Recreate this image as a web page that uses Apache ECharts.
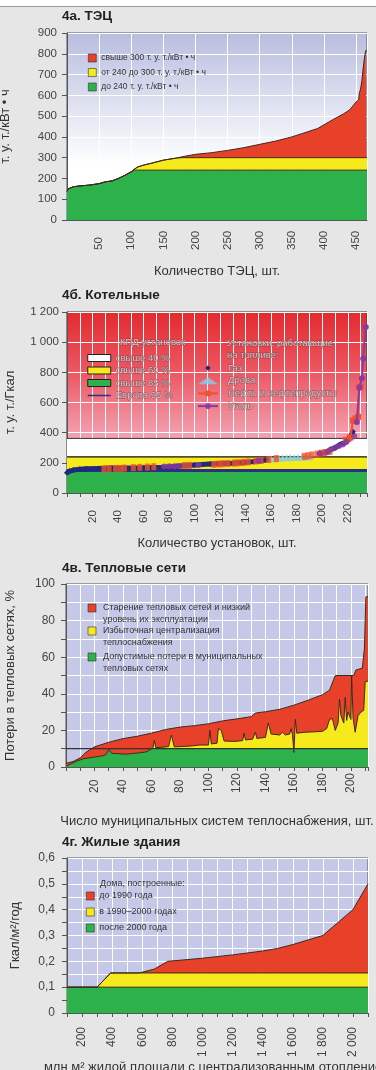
<!DOCTYPE html>
<html>
<head>
<meta charset="utf-8">
<script src="https://cdn.jsdelivr.net/npm/echarts@6/dist/echarts.min.js"></script>
<style>
html, body { margin: 0; padding: 0; background: #e6e6e6; }
#main { width: 376px; height: 1070px; }
</style>
</head>
<body>
<div id="main"></div>
<script>
// 4а. ТЭЦ: удельный расход по станциям (отсортировано)
const tpsX = [0, 2, 5, 10, 20, 35, 50, 60, 70, 80, 90, 100, 105, 110, 120, 130, 140, 150, 160, 170, 180, 200, 225, 250, 275, 300, 325, 350, 375, 390, 400, 415, 430, 440, 450, 454, 455, 457, 459, 461, 463, 465, 467];
const tpsY = [138, 150, 157, 160, 164, 168, 175, 184, 188, 200, 215, 232, 245, 255, 265, 272, 280, 288, 293, 298, 305, 316, 324, 335, 348, 364, 380, 400, 425, 440, 458, 485, 510, 530, 568, 578, 610, 630, 670, 730, 780, 815, 815];
const tpsLevels = [300, 240];

// 4б. Котельные
const gasX = [0, 2, 5, 10, 15, 25, 35, 45, 60, 75, 86, 100, 112, 122, 130, 138, 146, 152, 157, 180, 198, 202, 206, 210, 214, 218, 221, 224];
const gasY = [135, 145, 152, 157, 160, 163, 165, 166, 168, 171, 178, 186, 192, 195, 198, 202, 208, 214, 220, '-', 260, 268, 285, 300, 322, 334, 360, 406];
const woodX = [160, 163, 166, 169, 172, 175, 178, 181, 184, 187, 190];
const woodY = [226, 229, 231, 233, 234, 235, 236, 236, 237, 238, 240];
const oilX = [29, 33, 38, 42, 45, 52, 57, 63, 68, 92, 96, 115, 119, 122, 126, 131, 134, 138, 142, 148, 152, 158, 164, 186, 189, 192, 196, 199, 202, 206, 218, 221];
const oilY = [160, 162, 163, 162, 165, 168, 170, 172, 174, 182, 183, 190, 192, 194, 196, 198, 200, 203, 206, 212, 216, 222, 228, 243, 247, 252, 258, 264, 268, 276, 350, 362];
const oilTailX = [222, 224, 226, 228, 229, 230];
const oilTailY = [368, 480, 495, 505, 700, 705];
const coalX = [76, 80, 84, 88, 103, 150, 198, 204, 207, 210, 213, 216, 219, 225];
const coalY = [176, 177, 178, 179, 186, 214, 262, 272, 290, 300, 312, 322, 340, 376];
const coalTailX = [227, 229, 231, 232, 234];
const coalTailY = [470, 700, 760, 890, 1100];
const boilerBands = [362, 240, 150];   // КПД 40 %, 60 %, 85 %
const europeLevel = 150;               // Европа 95 %

// 4в. Тепловые сети
const netTopX = [0, 5, 10, 14, 20, 30, 40, 50, 60, 70, 80, 90, 100, 110, 120, 130, 133, 140, 150, 160, 170, 180, 185, 189, 202, 203.5, 208, 209.5, 210.5, 212];
const netTopY = [2, 3, 5, 8, 11, 13.5, 15.5, 16.8, 18.5, 20.5, 21.8, 22.6, 23.6, 25.2, 26.3, 27.5, 29.5, 30.2, 31.5, 33.8, 36.5, 39.5, 42, 50, 50, 53, 54, 65, 93, 93];
const netLowX = [0, 3, 7, 12, 19, 25, 28, 30, 32, 42, 50, 56, 59, 61, 62, 63, 68, 72, 74, 76, 82, 88, 94, 100, 101, 102, 106, 107, 109, 111, 118, 124, 125, 126, 131, 133, 134, 140, 142, 144, 150, 152, 154, 157, 158, 159, 160, 161, 162, 168, 174, 180, 183, 185, 187, 189, 191, 192, 193, 194, 195, 196, 197, 198, 199, 200, 200.5, 201.5, 203, 205, 207, 209, 210, 212];
const netLowY = [0.5, 1.5, 3, 4.5, 5.3, 6, 6.6, 9.6, 7.5, 7, 7.6, 8.2, 9.3, 10.5, 14.5, 10.6, 10.8, 11.2, 17.5, 11, 11.2, 11.5, 12, 12, 20, 12.6, 13, 21, 20, 14.2, 14, 14.4, 18.5, 14.8, 15.2, 19, 15.6, 16.2, 24, 18, 17.5, 19, 17.5, 18, 21, 17.6, 8, 26, 18.5, 19, 19.2, 19.5, 21, 26, 26.5, 20, 24, 37, 28, 29, 24, 38, 25.5, 30, 31, 26, 50, 27, 19, 28, 30, 31, 46.5, 47];
const netNorm = 10;

// 4г. Жилые здания
const homesX = [100, 300, 390, 580, 680, 770, 1000, 1200, 1400, 1500, 1600, 1800, 1900, 2000, 2100];
const homesY = [0.1, 0.1, 0.155, 0.155, 0.17, 0.2, 0.212, 0.225, 0.24, 0.25, 0.265, 0.3, 0.35, 0.4, 0.5];
const homesLevels = [0.155, 0.1];

const RED = '#e8412a', YELLOW = '#f6e91c', GREEN = '#2db24b';
const EDGE = '#3b2a1e';
const FONT = 'Liberation Sans, Arial, sans-serif';
const PALE = { color: '#d4c4c6', textBorderColor: 'rgba(110,70,75,0.85)', textBorderWidth: 0.8 };

const pairs = (xs, ys) => xs.map((x, i) => [x, ys[i]]);
const capped = (xs, ys, c) => xs.map((x, i) => [x, Math.min(ys[i], c)]);
const flat = (xs, v) => [[xs[0], v], [xs[xs.length - 1], v]];
const spaced = v => v >= 1000 ? Math.floor(v / 1000) + ' ' + String(v % 1000).padStart(3, '0') : String(v);

const chart = echarts.init(document.getElementById('main'));

function area(name, data, color, xi, lineColor, lineWidth, z) {
    return {
        name: name, type: 'line', xAxisIndex: xi, yAxisIndex: xi, data: data,
        symbol: 'none', animation: false, z: z || 2,
        itemStyle: { color: color },
        lineStyle: { color: lineColor || EDGE, width: lineWidth === undefined ? 1 : lineWidth },
        areaStyle: { color: color, opacity: 1 }
    };
}

const labelStyle = { color: '#444', fontSize: 11.5 };
const axisLine = { show: true, lineStyle: { color: '#555' } };
const whiteSplit = { show: true, lineStyle: { color: '#fff', width: 1 } };
const nameStyle = { fontSize: 13, color: '#333' };

const option = {
    backgroundColor: '#e6e6e6',
    animation: false,
    textStyle: { fontFamily: FONT },
    title: [
        { text: '4а. ТЭЦ', left: 62, top: 9 },
        { text: '4б. Котельные', left: 62, top: 288 },
        { text: '4в. Тепловые сети', left: 62, top: 561 },
        { text: '4г. Жилые здания', left: 62, top: 835 }
    ].map(t => Object.assign(t, { padding: 0, textStyle: { fontSize: 13.5, fontWeight: 'bold', color: '#222', fontFamily: FONT } })),
    grid: [
        { left: 67, top: 33, width: 300, height: 187, show: true, borderColor: '#4c5178', borderWidth: 1,
          backgroundColor: new echarts.graphic.LinearGradient(0, 0, 0, 1, [
              { offset: 0, color: '#b8bddf' }, { offset: 0.7, color: '#ffffff' }, { offset: 1, color: '#ffffff' }]) },
        { left: 67, top: 312, width: 300, height: 181, show: true, borderColor: '#333', borderWidth: 1,
          backgroundColor: new echarts.graphic.LinearGradient(0, 0, 0, 1, [
              { offset: 0, color: '#e42a2e' }, { offset: 0.35, color: '#ec5a66' }, { offset: 0.7, color: '#f4a4b4' }, { offset: 1, color: '#fbd8e0' }]) },
        { left: 66, top: 584, width: 302, height: 183, show: true, borderColor: '#555', borderWidth: 1, backgroundColor: '#c5c8e7' },
        { left: 67, top: 858, width: 301, height: 155, show: true, borderColor: '#555', borderWidth: 1, backgroundColor: '#c5c8e7' }
    ].map(g => Object.assign(g, { containLabel: false, outerBoundsMode: 'none' })),
    xAxis: [
        { gridIndex: 0, type: 'value', min: 0, max: 467, interval: 50,
          name: 'Количество ТЭЦ, шт.', nameLocation: 'middle', nameGap: 45, nameTextStyle: nameStyle,
          axisLine: axisLine, axisTick: { show: false },
          axisLabel: Object.assign({ rotate: 90, align: 'left', margin: 30,
              formatter: v => (v > 0 && v % 50 === 0) ? String(v) : '' }, labelStyle),
          splitLine: whiteSplit },
        { gridIndex: 1, type: 'value', min: 0, max: 235, interval: 10,
          name: 'Количество установок, шт.', nameLocation: 'middle', nameGap: 44, nameTextStyle: nameStyle,
          axisLine: axisLine, axisTick: { show: true, length: 4, lineStyle: { color: '#555' } },
          axisLabel: Object.assign({ rotate: 90, align: 'left', margin: 30,
              formatter: v => (v > 0 && v <= 220 && v % 20 === 0) ? String(v) : '' }, labelStyle),
          splitLine: whiteSplit },
        { gridIndex: 2, type: 'value', min: 0, max: 212, interval: 10,
          name: 'Число муниципальных систем теплоснабжения, шт.', nameLocation: 'middle', nameGap: 48, nameTextStyle: nameStyle,
          axisLine: axisLine, axisTick: { show: true, length: 4, lineStyle: { color: '#555' } },
          axisLabel: Object.assign({ rotate: 90, align: 'left', margin: 26,
              formatter: v => (v > 0 && v <= 200 && v % 20 === 0) ? String(v) : '' }, labelStyle, { fontSize: 12 }),
          splitLine: whiteSplit },
        { gridIndex: 3, type: 'value', min: 100, max: 2100, interval: 100,
          name: 'млн м² жилой площади с централизованным отоплением', nameLocation: 'middle', nameGap: 47, nameTextStyle: nameStyle,
          axisLine: axisLine, axisTick: { show: true, length: 4, lineStyle: { color: '#555' } },
          axisLabel: Object.assign({ rotate: 90, margin: 14,
              formatter: v => (v % 200 === 0) ? spaced(v) : '' }, labelStyle, { fontSize: 12 }),
          splitLine: whiteSplit }
    ],
    yAxis: [
        { gridIndex: 0, type: 'value', min: 0, max: 900, interval: 100,
          name: 'т. у. т./кВт • ч', nameLocation: 'middle', nameGap: 55, nameTextStyle: nameStyle,
          axisLine: axisLine, axisTick: { show: true, length: 5, lineStyle: { color: '#555' } },
          axisLabel: Object.assign({ margin: 10 }, labelStyle), splitLine: whiteSplit },
        { gridIndex: 1, type: 'value', min: 0, max: 1200, interval: 200,
          name: 'т. у. т./Гкал', nameLocation: 'middle', nameGap: 50, nameTextStyle: nameStyle,
          axisLine: axisLine, axisTick: { show: true, length: 5, lineStyle: { color: '#555' } },
          axisLabel: Object.assign({ margin: 8, formatter: spaced }, labelStyle), splitLine: whiteSplit },
        { gridIndex: 2, type: 'value', min: 0, max: 100, interval: 10,
          name: 'Потери в тепловых сетях, %', nameLocation: 'middle', nameGap: 49, nameTextStyle: nameStyle,
          axisLine: axisLine, axisTick: { show: true, length: 5, lineStyle: { color: '#555' } },
          axisLabel: Object.assign({ margin: 11, formatter: v => v % 20 === 0 ? String(v) : '' }, labelStyle, { fontSize: 12 }),
          splitLine: whiteSplit },
        { gridIndex: 3, type: 'value', min: 0, max: 0.6, interval: 0.05,
          name: 'Гкал/м²/год', nameLocation: 'middle', nameGap: 45, nameTextStyle: nameStyle,
          axisLine: axisLine, axisTick: { show: true, length: 5, lineStyle: { color: '#555' } },
          axisLabel: Object.assign({ margin: 12,
              formatter: v => Math.round(v * 100) % 10 === 0 ? (v === 0 ? '0' : v.toFixed(1).replace('.', ',')) : '' }, labelStyle, { fontSize: 12 }),
          splitLine: whiteSplit }
    ],
    legend: [
        { data: ['свыше 300 т. у. т./кВт • ч', 'от 240 до 300 т. у. т./кВт • ч', 'до 240 т. у. т./кВт • ч'],
          orient: 'vertical', left: 88, top: 53, padding: 0, icon: 'rect', itemWidth: 8, itemHeight: 8, itemGap: 4.5,
          selectedMode: false, itemStyle: { borderColor: '#333', borderWidth: 0.6 },
          textStyle: { fontSize: 8.5, color: '#333', lineHeight: 10, fontFamily: FONT } },
        { data: [
              { name: 'свыше 40 %', icon: 'rect', itemStyle: { color: '#fff', borderColor: '#222', borderWidth: 1 } },
              { name: 'свыше 60 %', icon: 'rect', itemStyle: { color: YELLOW, borderColor: '#222', borderWidth: 1 } },
              { name: 'свыше 85 %', icon: 'rect', itemStyle: { color: GREEN, borderColor: '#222', borderWidth: 1 } },
              { name: 'Европа 95 %', itemStyle: { opacity: 0 }, lineStyle: { width: 1.5 } }],
          orient: 'vertical', left: 87, top: 352, padding: 0, itemWidth: 23, itemHeight: 7, itemGap: 0.5,
          selectedMode: false,
          textStyle: Object.assign({ fontSize: 9.5, lineHeight: 12, fontFamily: FONT }, PALE) },
        { data: [{ name: 'Газ', lineStyle: { opacity: 0 } }, 'Дрова', 'Нефть и нефтепродукты', 'Уголь'],
          orient: 'vertical', left: 197, top: 362, padding: 0, itemWidth: 20, itemHeight: 7, itemGap: 0.7,
          selectedMode: false,
          textStyle: Object.assign({ fontSize: 9.5, lineHeight: 12, fontFamily: FONT, padding: [0, 0, 0, 5] }, PALE) },
        { data: ['до 1990 года', 'в 1990–2000 годах', 'после 2000 года'],
          orient: 'vertical', left: 86, top: 891, padding: 0, icon: 'rect', itemWidth: 8, itemHeight: 8, itemGap: 6,
          selectedMode: false, itemStyle: { borderColor: '#333', borderWidth: 0.6 },
          textStyle: { fontSize: 9, color: '#333', lineHeight: 10, fontFamily: FONT } }
    ],
    graphic: [
        { type: 'rect', z: 100, shape: { x: 0, y: 0, width: 376, height: 6 }, style: { fill: '#fff' } },
        { type: 'line', z: 100, shape: { x1: 0, y1: 6.5, x2: 376, y2: 6.5 }, style: { stroke: '#999', lineWidth: 1 } },
        { type: 'text', z: 100, x: 120, y: 337, style: { text: 'КПД установок', fontSize: 9.5, fontFamily: FONT,
          fill: PALE.color, stroke: PALE.textBorderColor, lineWidth: PALE.textBorderWidth } },
        { type: 'text', z: 100, x: 227, y: 337, style: { text: 'Установки, работающие\nна топливе:', fontSize: 9.5, lineHeight: 12,
          fontFamily: FONT, fill: PALE.color, stroke: PALE.textBorderColor, lineWidth: PALE.textBorderWidth } },
        { type: 'text', z: 100, x: 100, y: 879, style: { text: 'Дома, построенные:', fontSize: 9, fontFamily: FONT, fill: '#333' } }
    ].concat([
        { c: 608, color: RED, text: 'Старение тепловых сетей и низкий\nуровень их эксплуатации' },
        { c: 631, color: YELLOW, text: 'Избыточная централизация\nтеплоснабжения' },
        { c: 657, color: GREEN, text: 'Допустимые потери в муниципальных\nтепловых сетях' }
    ].flatMap(it => [
        { type: 'rect', z: 100, shape: { x: 88, y: it.c - 4, width: 8, height: 8 }, style: { fill: it.color, stroke: '#333', lineWidth: 0.6 } },
        { type: 'text', z: 100, x: 103, y: it.c - 6, style: { text: it.text, fontSize: 9, lineHeight: 12, fontFamily: FONT, fill: '#333' } }
    ])),
    series: [
        // 4а
        area('свыше 300 т. у. т./кВт • ч', pairs(tpsX, tpsY), RED, 0),
        area('от 240 до 300 т. у. т./кВт • ч', capped(tpsX, tpsY, tpsLevels[0]), YELLOW, 0),
        area('до 240 т. у. т./кВт • ч', capped(tpsX, tpsY, tpsLevels[1]), GREEN, 0),

        // 4б: полосы КПД
        area('свыше 40 %', flat([0, 235], boilerBands[0]), '#ffffff', 1, '#333', 1, 1),
        area('свыше 60 %', flat([0, 235], boilerBands[1]), YELLOW, 1, '#111', 1.2, 1),
        area('свыше 85 %', flat([0, 235], boilerBands[2]), GREEN, 1, GREEN, 0, 1),
        { name: 'Европа 95 %', type: 'line', xAxisIndex: 1, yAxisIndex: 1, data: flat([0, 235], europeLevel), z: 2,
          symbol: 'none', itemStyle: { color: '#2a2f86' }, lineStyle: { color: '#2a2f86', width: 3 } },
        { name: 'Газ', type: 'line', xAxisIndex: 1, yAxisIndex: 1, data: pairs(gasX, gasY), z: 3,
          symbol: 'diamond', symbolSize: 6, showSymbol: true,
          itemStyle: { color: '#1f2a7c' }, lineStyle: { color: '#1f2a7c', width: 5 } },
        { name: 'Дрова', type: 'scatter', xAxisIndex: 1, yAxisIndex: 1, data: pairs(woodX, woodY), z: 4,
          symbol: 'triangle', symbolSize: 7, itemStyle: { color: '#86cdea' } },
        { name: 'Нефть и нефтепродукты', type: 'line', xAxisIndex: 1, yAxisIndex: 1, data: pairs(oilTailX, oilTailY), z: 4,
          symbol: 'rect', symbolSize: 6, showSymbol: true,
          itemStyle: { color: '#f0502a' }, lineStyle: { color: '#f0502a', width: 2 } },
        { name: 'Нефть и нефтепродукты', type: 'scatter', xAxisIndex: 1, yAxisIndex: 1, data: pairs(oilX, oilY), z: 4,
          symbol: 'rect', symbolSize: [5, 7], itemStyle: { color: '#f0502a' } },
        { name: 'Уголь', type: 'line', xAxisIndex: 1, yAxisIndex: 1, data: pairs(coalTailX, coalTailY), z: 5,
          symbol: 'circle', symbolSize: 6, showSymbol: true,
          itemStyle: { color: '#8a3aa0' }, lineStyle: { color: '#8a3aa0', width: 2 } },
        { name: 'Уголь', type: 'scatter', xAxisIndex: 1, yAxisIndex: 1, data: pairs(coalX, coalY), z: 5,
          symbol: 'circle', symbolSize: 6, itemStyle: { color: '#8a3aa0' } },

        // 4в
        area('Старение тепловых сетей и низкий уровень их эксплуатации', pairs(netTopX, netTopY), RED, 2),
        area('Избыточная централизация теплоснабжения', pairs(netLowX, netLowY), YELLOW, 2),
        area('Допустимые потери в муниципальных тепловых сетях', capped(netLowX, netLowY, netNorm), GREEN, 2, GREEN, 0),
        { name: 'норматив', type: 'line', xAxisIndex: 2, yAxisIndex: 2, data: flat([0, 212], netNorm),
          symbol: 'none', z: 3, lineStyle: { color: '#333', width: 1.2 } },

        // 4г
        area('до 1990 года', pairs(homesX, homesY), RED, 3),
        area('в 1990–2000 годах', capped(homesX, homesY, homesLevels[0]), YELLOW, 3),
        area('после 2000 года', capped(homesX, homesY, homesLevels[1]), GREEN, 3)
    ]
};

chart.setOption(option);
</script>
</body>
</html>
